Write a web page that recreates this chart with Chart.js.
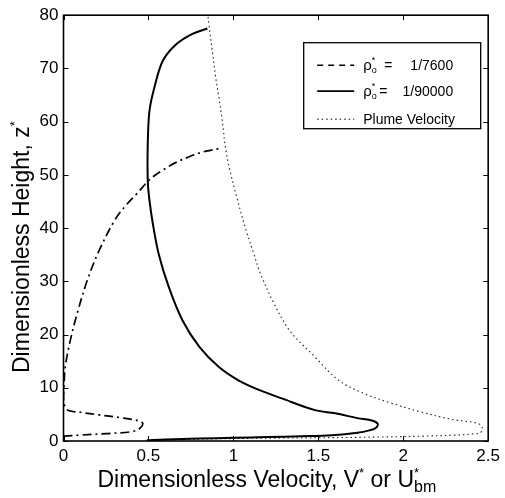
<!DOCTYPE html>
<html>
<head>
<meta charset="utf-8">
<script src="https://cdn.jsdelivr.net/npm/chart.js@4.4.0/dist/chart.umd.min.js"></script>
<style>
  html, body { margin: 0; padding: 0; background: #fff; }
  canvas { display: block; }
</style>
</head>
<body>
<canvas id="chart" width="505" height="498"></canvas>
<script>
// Axis ticks
const xTicks = [0, 0.5, 1, 1.5, 2, 2.5];
const yTicks = [0, 10, 20, 30, 40, 50, 60, 70, 80];

// Bubble velocity profile, rho*_o = 1/7600 (ordered along the curve)
const lowRatioV = [0.0, 0.10, 0.25, 0.40, 0.45, 0.467, 0.447, 0.33, 0.21, 0.10, 0.02, 0.0, 0.003, 0.01, 0.04, 0.08, 0.14, 0.21, 0.30, 0.36, 0.43, 0.51, 0.59, 0.66, 0.74, 0.82, 0.88, 0.915];
const lowRatioZ = [0.9, 1.1, 1.4, 1.75, 2.4, 3.3, 3.75, 4.4, 4.9, 5.4, 5.9, 8.0, 10.2, 13.9, 18.9, 23.9, 30.2, 35.8, 41.4, 44.0, 46.4, 49.2, 51.0, 52.3, 53.4, 54.3, 54.7, 54.95];

// Bubble velocity profile, rho*_o = 1/90000
const highRatioV = [0.49, 0.6, 0.8, 1.0, 1.2, 1.4, 1.58, 1.73, 1.80, 1.84, 1.85, 1.82, 1.73, 1.60, 1.48, 1.285, 1.15, 1.03, 0.915, 0.80, 0.70, 0.62, 0.56, 0.525, 0.505, 0.496, 0.496, 0.506, 0.535, 0.584, 0.662, 0.759, 0.847];
const highRatioZ = [0.15, 0.3, 0.45, 0.6, 0.75, 0.9, 1.1, 1.55, 2.0, 2.5, 3.2, 3.8, 4.3, 5.2, 5.8, 8.0, 9.6, 11.4, 13.9, 17.7, 22.7, 28.9, 35.2, 41.0, 45.5, 48.9, 55.8, 62.0, 66.4, 71.4, 74.5, 76.5, 77.5];

// Plume centreline velocity U*_bm
const plumeV = [0.55, 0.7, 1.09, 1.48, 1.87, 2.14, 2.30, 2.40, 2.455, 2.465, 2.44, 2.28, 2.10, 1.93, 1.77, 1.62, 1.48, 1.33, 1.235, 1.16, 1.12, 1.07, 1.02, 0.98, 0.954, 0.935, 0.915, 0.896, 0.875, 0.855, 0.85];
const plumeZ = [0.2, 0.3, 0.5, 0.6, 0.75, 0.94, 1.1, 1.3, 1.6, 2.5, 3.3, 4.1, 5.5, 7.1, 8.9, 11.4, 15.8, 20.8, 26.1, 31.4, 35.2, 40.1, 45.8, 50.8, 55.0, 60.1, 64.5, 68.3, 73.5, 78.5, 80];

const seriesValues = ['1/7600', '1/90000'];
const plumeLabel = 'Plume Velocity';

const FONT = '"Liberation Sans", Arial, Helvetica, sans-serif';
const toPoints = (v, z) => v.map((x, i) => ({ x: x, y: z[i] }));

const dashDot = [9, 4, 2, 4];
const dotted = [1.5, 3];

// Draws a run of text pieces; pieces may be raised/lowered and may share an x position
function drawRich(ctx, parts, x, y) {
  let cx = x;
  ctx.textBaseline = 'alphabetic';
  ctx.textAlign = 'left';
  for (const p of parts) {
    ctx.font = (p.weight || 'normal') + ' ' + p.size + 'px ' + FONT;
    ctx.fillText(p.t, cx, y + (p.dy || 0));
    const w = ctx.measureText(p.t).width;
    if (!p.hold) cx += w;
  }
  return cx - x;
}
function richWidth(ctx, parts) {
  let w = 0;
  for (const p of parts) {
    ctx.font = (p.weight || 'normal') + ' ' + p.size + 'px ' + FONT;
    if (!p.hold) w += ctx.measureText(p.t).width;
  }
  return w;
}

const xTitleParts = [
  { t: 'Dimensionless Velocity, V', size: 23 },
  { t: '*', size: 13, dy: -10 },
  { t: ' or U', size: 23 },
  { t: '*', size: 13, dy: -10, hold: true },
  { t: 'bm', size: 16, dy: 5 }
];
const yTitleParts = [
  { t: 'Dimensionless Height, z', size: 23 },
  { t: '*', size: 13, dy: -10 }
];

const framePlugin = {
  id: 'frame',
  afterDraw(chart) {
    const { ctx, chartArea: a, scales } = chart;
    const tick = 5;
    ctx.save();
    ctx.strokeStyle = '#000';
    ctx.lineWidth = 1;
    ctx.beginPath();
    for (const v of xTicks) {
      const px = Math.round(scales.x.getPixelForValue(v)) + 0.5;
      ctx.moveTo(px, a.bottom); ctx.lineTo(px, a.bottom - tick);
      ctx.moveTo(px, a.top); ctx.lineTo(px, a.top + tick);
    }
    for (const v of yTicks) {
      const py = Math.round(scales.y.getPixelForValue(v)) + 0.5;
      ctx.moveTo(a.left, py); ctx.lineTo(a.left + tick, py);
      ctx.moveTo(a.right, py); ctx.lineTo(a.right - tick, py);
    }
    ctx.stroke();
    ctx.lineWidth = 1.6;
    ctx.strokeRect(a.left, a.top, a.right - a.left, a.bottom - a.top);

    // axis titles
    ctx.fillStyle = '#000';
    const xw = richWidth(ctx, xTitleParts);
    drawRich(ctx, xTitleParts, (a.left + a.right) / 2 - 9 - xw / 2, 487);
    const yw = richWidth(ctx, yTitleParts);
    ctx.save();
    ctx.translate(29, (a.top + a.bottom) / 2 + 19);
    ctx.rotate(-Math.PI / 2);
    drawRich(ctx, yTitleParts, -yw / 2, 0);
    ctx.restore();

    // legend box
    const bx = a.right - 185, by = a.top + 27, bw = 177, bh = 86;
    ctx.fillStyle = '#fff';
    ctx.fillRect(bx, by, bw, bh);
    ctx.lineWidth = 1.3;
    ctx.strokeRect(bx + 0.5, by + 0.5, bw, bh);
    const rows = [
      { y: by + 23, dash: [6, 5], width: 1.5, kind: 'rho', value: seriesValues[0], eq: 21 },
      { y: by + 49, dash: [], width: 1.8, kind: 'rho', value: seriesValues[1], eq: 16 },
      { y: by + 77, dash: dotted, width: 1, kind: 'plain', text: plumeLabel }
    ];
    ctx.fillStyle = '#000';
    for (const r of rows) {
      ctx.beginPath();
      ctx.setLineDash(r.dash);
      ctx.lineWidth = r.width;
      ctx.moveTo(bx + 14, r.y); ctx.lineTo(bx + 51, r.y);
      ctx.stroke();
      ctx.setLineDash([]);
      const tx = bx + 60, ty = r.y + 5;
      if (r.kind === 'rho') {
        drawRich(ctx, [
          { t: '\u03c1', size: 15 },
          { t: '*', size: 9, dy: -7, hold: true },
          { t: 'o', size: 9, dy: 3 }
        ], tx, ty);
        ctx.font = '14px ' + FONT;
        ctx.textAlign = 'left';
        ctx.fillText('=', tx + r.eq, ty);
        ctx.textAlign = 'right';
        ctx.fillText(r.value, bx + 150, ty);
      } else {
        ctx.font = '14px ' + FONT;
        ctx.textAlign = 'left';
        ctx.fillText(r.text, tx, ty);
      }
    }
    ctx.restore();
  }
};

new Chart(document.getElementById('chart'), {
  type: 'scatter',
  data: {
    datasets: [
      {
        label: seriesValues[0],
        data: toPoints(lowRatioV, lowRatioZ),
        showLine: true, borderColor: '#000', borderWidth: 1.7,
        borderDash: dashDot, pointRadius: 0, tension: 0.35, fill: false
      },
      {
        label: seriesValues[1],
        data: toPoints(highRatioV, highRatioZ),
        showLine: true, borderColor: '#000', borderWidth: 2,
        pointRadius: 0, tension: 0.35, fill: false
      },
      {
        label: plumeLabel,
        data: toPoints(plumeV, plumeZ),
        showLine: true, borderColor: '#222', borderWidth: 1.1,
        borderDash: dotted, pointRadius: 0, tension: 0.35, fill: false
      }
    ]
  },
  options: {
    responsive: false,
    animation: false,
    devicePixelRatio: 1,
    layout: { padding: { top: 14, right: 14, left: 0, bottom: 0 } },
    plugins: { legend: { display: false }, tooltip: { enabled: false } },
    scales: {
      x: {
        type: 'linear', min: 0, max: 2.5,
        afterFit(s) { s.height = 57; },
        afterBuildTicks(s) { s.ticks = xTicks.map(v => ({ value: v })); },
        grid: { display: false, drawTicks: false },
        border: { display: false },
        ticks: { color: '#000', padding: 5, maxRotation: 0, autoSkip: false,
                 callback: v => String(v),
                 font: { family: FONT, size: 17 } }
      },
      y: {
        type: 'linear', min: 0, max: 80,
        afterFit(s) { s.width = 63.5; },
        afterBuildTicks(s) { s.ticks = yTicks.map(v => ({ value: v })); },
        grid: { display: false, drawTicks: false },
        border: { display: false },
        ticks: { color: '#000', padding: 5, autoSkip: false,
                 callback: v => String(v),
                 font: { family: FONT, size: 17 } }
      }
    }
  },
  plugins: [framePlugin]
});
</script>
</body>
</html>
